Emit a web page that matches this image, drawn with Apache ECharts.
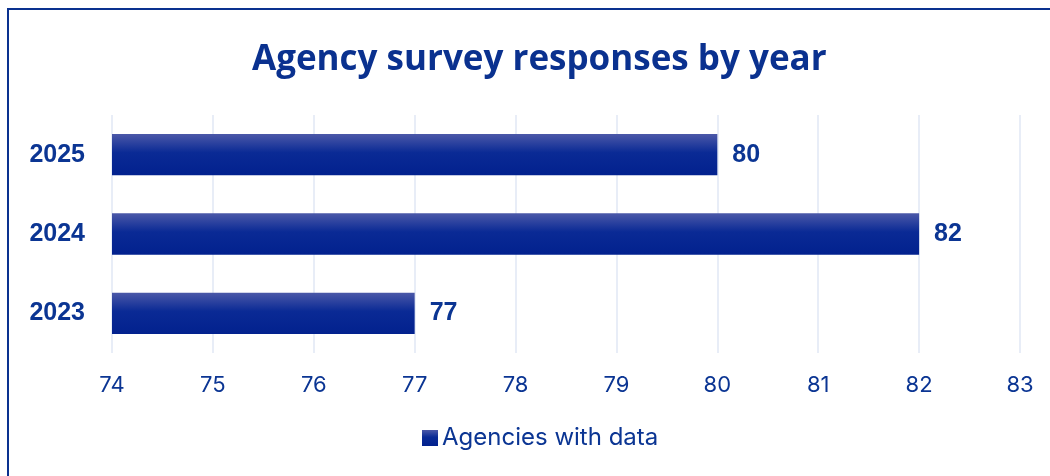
<!DOCTYPE html>
<html>
<head>
<meta charset="utf-8">
<script src="https://cdn.jsdelivr.net/npm/echarts@6/dist/echarts.min.js"></script>
<style>
  * { margin: 0; padding: 0; }
  body { width: 1050px; height: 476px; overflow: hidden; background: #fff; position: relative; }
  #frame { position: absolute; left: 7px; top: 8px; width: 1100px; height: 500px; border-top: 2px solid #0a318f; border-left: 2px solid #0a318f; }
  #main { position: absolute; left: 0; top: 0; width: 1050px; height: 476px; }
</style>
</head>
<body>
<div id="frame"></div>
<div id="main"></div>
<script>
  // data
  var years = ['2023', '2024', '2025'];
  var agencies = [77, 82, 80];
  var seriesName = 'Agencies with data';
  var xTicks = [74, 75, 76, 77, 78, 79, 80, 81, 82, 83];

  var blue = '#0b3593';
  var barFill = new echarts.graphic.LinearGradient(0, 0, 0, 1, [
    { offset: 0, color: '#4b58a8' },
    { offset: 0.45, color: '#0a2a95' },
    { offset: 1, color: '#02218e' }
  ]);

  var chart = echarts.init(document.getElementById('main'));
  chart.setOption({
    animation: false,
    title: {
      text: 'Agency survey responses by year',
      left: 247,
      top: 38,
      textStyle: {
        fontFamily: 'Open Sans',
        fontWeight: 'bold',
        fontSize: 35,
        color: '#0a318f'
      }
    },
    legend: {
      bottom: 21,
      left: 417,
      itemWidth: 16,
      itemHeight: 16,
      itemGap: 6,
      icon: 'rect',
      textStyle: { fontFamily: 'Inter', fontSize: 24, color: blue, padding: [0, 0, 0, -1] },
      data: [seriesName]
    },
    grid: { left: 112, right: 30, top: 115, bottom: 123 },
    xAxis: {
      type: 'value',
      min: xTicks[0],
      max: xTicks[xTicks.length - 1],
      interval: 1,
      axisLine: { show: false },
      axisTick: { show: false },
      axisLabel: { fontFamily: 'Inter', fontSize: 22, color: blue, margin: 21 },
      splitLine: { lineStyle: { color: '#e8edf7', width: 2 } }
    },
    yAxis: {
      type: 'category',
      data: years,
      axisLine: { show: false },
      axisTick: { show: false },
      axisLabel: { fontFamily: 'Liberation Sans', fontWeight: 'bold', fontSize: 25, color: blue, margin: 27 }
    },
    series: [
      {
        name: seriesName,
        type: 'bar',
        data: agencies,
        barWidth: '52%',
        itemStyle: { color: barFill },
        label: {
          show: true,
          position: 'right',
          distance: 15,
          fontFamily: 'Liberation Sans',
          fontWeight: 'bold',
          fontSize: 25,
          color: blue
        }
      }
    ]
  });
</script>
</body>
</html>
